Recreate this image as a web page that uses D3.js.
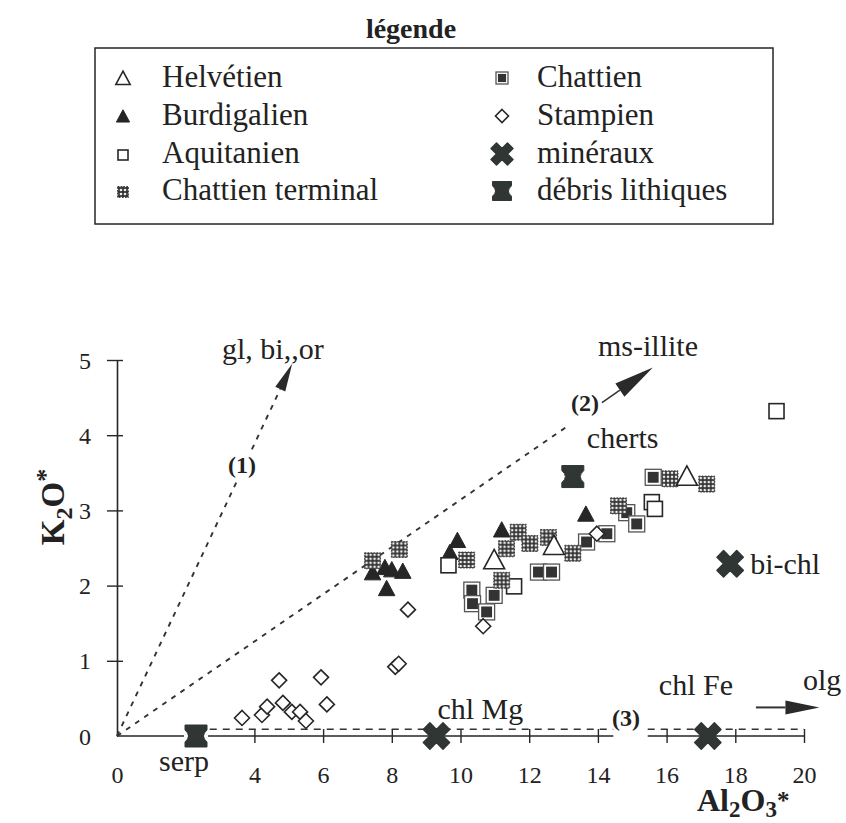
<!DOCTYPE html>
<html><head><meta charset="utf-8">
<script src="https://cdn.jsdelivr.net/npm/d3@7"></script>
<style>
body{margin:0;background:#fff}
svg{display:block}
text{font-family:"Liberation Serif","DejaVu Serif",serif;fill:#222}
</style>
</head><body><svg id="c" width="846" height="823"></svg>
<script>
// ---------- data (Al2O3*, K2O*) ----------
const helvetien = [[10.98,2.33],[12.72,2.52],[16.59,3.44]];
const burdigalien = [[7.44,2.16],[7.8,2.23],[8.0,2.2],[8.32,2.18],[7.85,1.95],[9.91,2.59],[9.69,2.43],[11.2,2.73],[13.65,2.94]];
const aquitanien = [[9.65,2.27],[11.56,1.99],[15.57,3.11],[15.66,3.02],[19.2,4.32]];
const chattienTerminal = [[7.44,2.33],[8.22,2.48],[10.18,2.34],[11.34,2.49],[11.68,2.71],[12.02,2.56],[12.56,2.64],[13.27,2.43],[11.2,2.07],[14.6,3.06],[16.1,3.42],[17.17,3.35]];
const chattien = [[10.33,1.94],[10.35,1.76],[10.98,1.87],[10.76,1.65],[12.27,2.18],[12.65,2.18],[13.67,2.58],[14.26,2.69],[14.84,2.97],[15.13,2.82],[15.61,3.44]];
const stampien = [[3.64,0.24],[4.22,0.28],[4.37,0.39],[4.72,0.74],[4.83,0.44],[5.09,0.32],[5.33,0.32],[5.5,0.2],[5.94,0.78],[6.11,0.42],[8.1,0.92],[8.2,0.96],[8.47,1.68],[10.66,1.46],[13.97,2.69]];
const mineraux = [["chl Mg",9.3,0],["chl Fe",17.2,0],["bi-chl",17.85,2.29]];
const debris = [["serp",2.3,0],["cherts",13.27,3.45]];
// trend vectors (end points from origin)
const trend1 = [5.1,4.95];
const trend2 = [15.6,4.9];
const trend3 = [[2.7,0.09],[20,0.09]];
const olgArrow = [[18.6,0.38],[20.45,0.38]];
const xTicks = [0,4,6,8,10,12,14,16,18,20];
const yTicks = [0,1,2,3,4,5];
const legendLeft = ["Helvétien","Burdigalien","Aquitanien","Chattien terminal"];
const legendRight = ["Chattien","Stampien","minéraux","débris lithiques"];

const svg = d3.select("#c");
const x = d3.scaleLinear().domain([0,20]).range([117,804]);
const y = d3.scaleLinear().domain([0,5]).range([736,360]);
const ink = "#262626", dark = "#2f3634";

// pattern for Chattien terminal
const defs = svg.append("defs");
const pat = defs.append("pattern").attr("id","dots").attr("patternUnits","userSpaceOnUse").attr("width",4).attr("height",4);
pat.append("rect").attr("width",4).attr("height",4).attr("fill","#333");
pat.append("circle").attr("cx",2).attr("cy",2).attr("r",1.3).attr("fill","#eee");

// ---------- symbol painters ----------
function triUp(g, s, filled){
  g.append("path").attr("d",`M0,${-s*0.6}L${s*0.55},${s*0.42}L${-s*0.55},${s*0.42}Z`)
   .attr("fill",filled?ink:"#fff").attr("stroke",ink).attr("stroke-width",filled?1:1.6).attr("stroke-linejoin","miter");
}
function openSq(g, s){
  g.append("rect").attr("x",-s/2).attr("y",-s/2).attr("width",s).attr("height",s)
   .attr("fill","#fff").attr("stroke",ink).attr("stroke-width",1.6);
}
function dotSq(g, s){
  g.append("rect").attr("x",-s/2).attr("y",-s/2).attr("width",s).attr("height",s)
   .attr("fill","url(#dots)").attr("stroke","#444").attr("stroke-width",1).attr("stroke-dasharray","1.5,1.5");
}
function chatSq(g, s){
  g.append("rect").attr("x",-s/2).attr("y",-s/2).attr("width",s).attr("height",s)
   .attr("fill","#fff").attr("stroke","#555").attr("stroke-width",1.3);
  const i = s*0.68;
  g.append("rect").attr("x",-i/2).attr("y",-i/2).attr("width",i).attr("height",i).attr("fill","#333");
}
function diamond(g, s){
  g.append("path").attr("d",`M0,${-s/2}L${s/2},0L0,${s/2}L${-s/2},0Z`)
   .attr("fill","#fff").attr("stroke",ink).attr("stroke-width",1.6);
}
function xMark(g, s){
  g.append("path").attr("d",d3.symbol(d3.symbolCross, s*s*0.75)())
   .attr("transform","rotate(45)").attr("fill",dark).attr("stroke",dark).attr("stroke-width",1.5).attr("stroke-linejoin","round");
}
function hourglass(g, s){
  const h=s/2, w=s/2, n=s*0.18;
  g.append("path").attr("d",`M${-w},${-h}L${w},${-h}L${w},${-h*0.55}Q${n},0 ${w},${h*0.55}L${w},${h}L${-w},${h}L${-w},${h*0.55}Q${-n},0 ${-w},${-h*0.55}Z`)
   .attr("fill",dark).attr("stroke",dark).attr("stroke-width",1);
}

function plot(data, painter, s, extra){
  data.forEach(d=>{
    const g = svg.append("g").attr("transform",`translate(${x(d[0])},${y(d[1])})`);
    painter(g, s, extra);
  });
}

// ---------- axes ----------
const yAxis = svg.append("g").attr("transform",`translate(${x(0)},0)`)
  .call(d3.axisLeft(y).tickValues(yTicks).tickSize(10).tickSizeOuter(0).tickPadding(16).tickFormat(d3.format("d")));
yAxis.attr("font-family",null);
yAxis.select(".domain").attr("stroke",ink).attr("stroke-width",1.6);
yAxis.selectAll(".tick line").attr("x1",6).attr("stroke",ink).attr("stroke-width",1.4);
yAxis.selectAll(".tick text").attr("font-size",24).attr("fill","#222").attr("dy","0.34em");
yAxis.selectAll(".tick").filter(d=>d===0).select("line").remove();

const xAxis = svg.append("g").attr("transform",`translate(0,${y(0)})`)
  .call(d3.axisBottom(x).tickValues(xTicks).tickSize(7).tickPadding(23).tickFormat(d3.format("d")));
xAxis.attr("font-family",null);
xAxis.select(".domain").remove();
xAxis.selectAll(".tick line").attr("y1",-7).attr("stroke",ink).attr("stroke-width",1.4);
xAxis.selectAll(".tick").filter(d=>d===0).select("line").remove();
xAxis.selectAll(".tick text").attr("font-size",24).attr("fill","#222");
[[0,1.95],[2.65,14.45],[15.45,20]].forEach(s=>{
  svg.append("line").attr("x1",x(s[0])).attr("x2",x(s[1])).attr("y1",y(0)).attr("y2",y(0))
    .attr("stroke",ink).attr("stroke-width",1.6);
});

// axis titles
const yl = svg.append("text").attr("transform","translate(64,507) rotate(-90)")
  .attr("text-anchor","middle").attr("font-size",33).attr("font-weight","bold");
yl.append("tspan").text("K");
yl.append("tspan").text("2").attr("font-size",24).attr("dy",8);
yl.append("tspan").text("O").attr("dy",-8);
yl.append("tspan").text("*").attr("font-size",26).attr("dy",-10);

const xl = svg.append("text").attr("x",697).attr("y",811).attr("font-size",32).attr("font-weight","bold");
xl.append("tspan").text("Al");
xl.append("tspan").text("2").attr("font-size",23).attr("dy",6);
xl.append("tspan").text("O").attr("dy",-6);
xl.append("tspan").text("3").attr("font-size",23).attr("dy",6);
xl.append("tspan").text("*").attr("font-size",25).attr("dy",-8);

// ---------- trend lines ----------
function pt(v,t){ return [x(0)+(x(v[0])-x(0))*t, y(0)+(y(v[1])-y(0))*t]; }
function seg(a,b,dash,w){
  svg.append("line").attr("x1",a[0]).attr("y1",a[1]).attr("x2",b[0]).attr("y2",b[1])
   .attr("stroke","#333").attr("stroke-width",w||1.9).attr("stroke-dasharray",dash||null);
}
function head(tip, from, len, hw){
  const dx=tip[0]-from[0], dy=tip[1]-from[1], L=Math.hypot(dx,dy), ux=dx/L, uy=dy/L;
  const bx=tip[0]-ux*len, by=tip[1]-uy*len;
  svg.append("path").attr("d",`M${tip[0]},${tip[1]}L${bx-uy*hw},${by+ux*hw}L${bx+uy*hw},${by-ux*hw}Z`).attr("fill","#2a2a2a");
  return [bx,by];
}
const o = [x(0),y(0)];
// (1)
const t1 = [x(trend1[0]),y(trend1[1])];
seg(o, pt(trend1,0.69), "5,6");
const b1 = head(t1, o, 28, 5.5);
seg(pt(trend1,0.77), b1, "5,6");
// (2)
const t2 = [x(trend2[0]),y(trend2[1])];
seg(o, pt(trend2,0.845), "5,6");
const b2 = head(t2, o, 40, 8);
seg(pt(trend2,0.905), b2, null, 1.5);
// (3)
seg([x(trend3[0][0]),y(trend3[0][1])],[x(14.45),y(trend3[0][1])],"7,6",1.3);
seg([x(15.45),y(trend3[1][1])],[x(trend3[1][0]),y(trend3[1][1])],"7,6",1.3);
// olg arrow
const oa=[x(olgArrow[0][0]),y(olgArrow[0][1])], ob=[x(olgArrow[1][0]),y(olgArrow[1][1])];
const bo = head(ob, oa, 34, 7);
seg(oa, bo, null, 2);

// ---------- points ----------
plot(burdigalien, triUp, 15, true);
plot(aquitanien, openSq, 15);
plot(chattien, chatSq, 16);
plot(chattienTerminal, dotSq, 16);
plot(helvetien, triUp, 19, false);
plot(stampien, diamond, 15);

// minerals & debris with labels
const lab = {"chl Mg":[1,-17],"chl Fe":[-49,-41],"bi-chl":[20,10],"serp":[-37,35],"cherts":[14,-29]};
mineraux.forEach(d=>{
  const g = svg.append("g").attr("transform",`translate(${x(d[1])},${y(d[2])})`);
  xMark(g, 24);
  svg.append("text").attr("x",x(d[1])+lab[d[0]][0]).attr("y",y(d[2])+lab[d[0]][1]).attr("font-size",30).text(d[0]);
});
debris.forEach(d=>{
  const g = svg.append("g").attr("transform",`translate(${x(d[1])},${y(d[2])})`);
  hourglass(g, 22);
  svg.append("text").attr("x",x(d[1])+lab[d[0]][0]).attr("y",y(d[2])+lab[d[0]][1]).attr("font-size",30).text(d[0]);
});

// annotation labels
function ann(t,xx,yy,fs,bold){
  svg.append("text").attr("x",xx).attr("y",yy).attr("font-size",fs).attr("font-weight",bold?"bold":null)
    .attr("stroke",bold?"#fff":null).attr("stroke-width",bold?4:null).attr("paint-order","stroke").text(t);
}
ann("gl, bi,,or",222,359,30);
ann("ms-illite",598,356,30);
ann("olg",803,690,30);
ann("(1)",228,473,24,true);
ann("(2)",571,411,24,true);
ann("(3)",612,726,24,true);

// ---------- legend ----------
svg.append("text").attr("x",411).attr("y",38).attr("text-anchor","middle").attr("font-size",28).attr("font-weight","bold").text("légende");
svg.append("rect").attr("x",95).attr("y",48).attr("width",678).attr("height",176).attr("fill","none").attr("stroke",ink).attr("stroke-width",1.5);
const rowsY = [77,115,153,190];
const leftP = [g=>triUp(g,13,false), g=>triUp(g,12,true), g=>openSq(g,10), g=>dotSq(g,11)];
const rightP = [g=>chatSq(g,12), g=>diamond(g,13), g=>xMark(g,20), g=>hourglass(g,19)];
legendLeft.forEach((t,i)=>{
  leftP[i](svg.append("g").attr("transform",`translate(123,${rowsY[i]+2})`));
  svg.append("text").attr("x",162).attr("y",rowsY[i]+10).attr("font-size",31).text(t);
});
legendRight.forEach((t,i)=>{
  rightP[i](svg.append("g").attr("transform",`translate(502,${rowsY[i]+1})`));
  svg.append("text").attr("x",537).attr("y",rowsY[i]+10).attr("font-size",31).text(t);
});
</script>
</body></html>
